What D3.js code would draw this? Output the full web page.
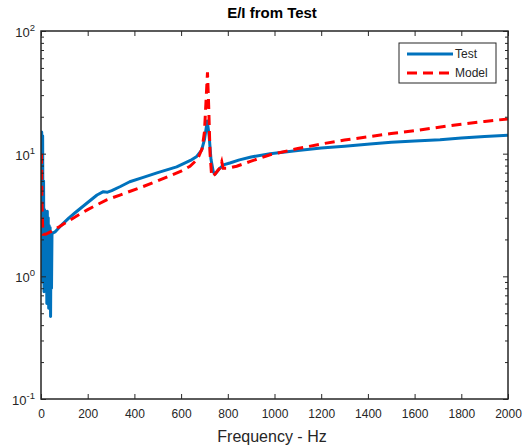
<!DOCTYPE html>
<html>
<head>
<meta charset="utf-8">
<script src="https://cdn.jsdelivr.net/npm/d3@7"></script>
<style>
  body { margin: 0; background: #fff; }
  svg text { font-family: "Liberation Sans", Arial, sans-serif; fill: #262626; }
  .axis path, .axis line { stroke: #262626; }
</style>
</head>
<body>
<svg id="chart" width="525" height="447"></svg>
<script>
const width = 525, height = 447;

const testFreq = [1, 3, 5, 7, 9, 11, 13, 15, 17, 19, 21, 23, 25, 27, 29, 31, 33, 35, 37, 39, 41, 43, 45, 47, 50, 60,
  81, 120, 146, 200, 240, 267, 285, 303, 340, 380, 438, 500, 581, 640, 667, 688, 700, 712, 720, 728, 738, 745, 760, 781, 809,
  850, 900, 981, 1100, 1200, 1300, 1409, 1500, 1600, 1709, 1800, 1900, 2000];
const testVal = [1.1, 15, 0.9, 14, 1.3, 6, 0.75, 3.5, 0.8, 2.0, 1.0, 2.2, 0.6, 3.4, 0.65, 3.0, 0.55, 2.6, 0.6, 2.5, 0.47, 2.3, 0.8, 2.2, 2.25, 2.3,
  2.54, 3.0, 3.3, 4.0, 4.6, 4.9, 4.85, 5.0, 5.4, 5.9, 6.4, 7.0, 7.8, 8.8, 9.5, 10.7, 13, 18.5, 14, 9, 7.1, 6.8, 7.4, 8.1, 8.4,
  8.9, 9.4, 10, 10.6, 11.1, 11.5, 12.0, 12.4, 12.7, 13.0, 13.4, 13.8, 14.1];

const modelFreq = [2, 4, 7, 10, 20, 40, 80, 146, 200, 281, 338, 438, 500, 552, 600, 638, 670, 690, 700, 708, 713, 718, 724, 731,
  745, 765, 774, 780, 800, 838, 900, 981, 1100, 1200, 1300, 1409, 1500, 1600, 1739, 1800, 1900, 2000];
const modelVal = [10, 4, 2.6, 2.2, 2.2, 2.3, 2.55, 3.05, 3.5, 4.2, 4.6, 5.4, 6.0, 6.6, 7.2, 7.9, 9.0, 11, 15, 30, 46, 25, 10, 6.5,
  6.8, 7.6, 8.6, 7.6, 7.6, 7.9, 8.7, 9.8, 11, 12, 12.9, 13.8, 14.6, 15.4, 16.8, 17.4, 18.3, 19.2];

const xTicks = [0, 200, 400, 600, 800, 1000, 1200, 1400, 1600, 1800, 2000];
const yTicks = [0.1, 1, 10, 100];

const fig = {margin: {top: 31, right: 17, bottom: 48, left: 41}};
fig.width = width - fig.margin.left - fig.margin.right;
fig.height = height - fig.margin.top - fig.margin.bottom;

const svg = d3.select('#chart');

const x = d3.scaleLinear().domain([0, 2000]).range([fig.margin.left, fig.margin.left + fig.width]);
const y = d3.scaleLog().domain([0.1, 100]).range([fig.margin.top + fig.height, fig.margin.top]);

const minorTicks = y.ticks().filter(v => !yTicks.includes(v));

svg.append('clipPath').attr('id', 'plotClip')
  .append('rect')
  .attr('x', fig.margin.left).attr('y', fig.margin.top)
  .attr('width', fig.width).attr('height', fig.height);

const line = d3.line().x(d => x(d[0])).y(d => y(d[1]));

const plot = svg.append('g').attr('clip-path', 'url(#plotClip)');

plot.append('path')
  .datum(testFreq.map((f, i) => [f, testVal[i]]))
  .attr('d', line)
  .attr('fill', 'none')
  .attr('stroke', '#0072BD')
  .attr('stroke-width', 3)
  .attr('stroke-linejoin', 'round');

plot.append('path')
  .datum(modelFreq.map((f, i) => [f, modelVal[i]]))
  .attr('d', line)
  .attr('fill', 'none')
  .attr('stroke', '#FF0000')
  .attr('stroke-width', 3)
  .attr('stroke-dasharray', '10,6');

// axes, ticks inside on all four sides
const bottom = fig.margin.top + fig.height, right = fig.margin.left + fig.width;

svg.append('g').attr('class', 'axis')
  .attr('transform', 'translate(0,' + bottom + ')')
  .call(d3.axisBottom(x).tickValues(xTicks).tickSize(-5).tickPadding(10).tickFormat(d3.format('d')))
  .call(g => g.select('.domain').remove())
  .selectAll('text').attr('font-size', 12).attr('font-family', null);

svg.append('g').attr('class', 'axis')
  .attr('transform', 'translate(0,' + fig.margin.top + ')')
  .call(d3.axisTop(x).tickValues(xTicks).tickSize(-5).tickFormat(''))
  .call(g => g.select('.domain').remove());

[[d3.axisLeft, fig.margin.left], [d3.axisRight, right]].forEach(([ax, pos]) => {
  svg.append('g').attr('class', 'axis')
    .attr('transform', 'translate(' + pos + ',0)')
    .call(ax(y).tickValues(minorTicks).tickSize(-3).tickFormat(''))
    .call(g => g.select('.domain').remove());
  svg.append('g').attr('class', 'axis')
    .attr('transform', 'translate(' + pos + ',0)')
    .call(ax(y).tickValues(yTicks).tickSize(-5).tickFormat(''))
    .call(g => g.select('.domain').remove());
});

// frame
svg.append('rect')
  .attr('x', fig.margin.left).attr('y', fig.margin.top)
  .attr('width', fig.width).attr('height', fig.height)
  .attr('fill', 'none').attr('stroke', '#262626').attr('stroke-width', 1.5);

// y tick labels 10^n
yTicks.forEach(v => {
  const t = svg.append('text')
    .attr('x', fig.margin.left - 6)
    .attr('y', y(v) + 6)
    .attr('text-anchor', 'end')
    .attr('font-size', 13);
  t.append('tspan').text('10');
  t.append('tspan').attr('dy', -6).attr('font-size', 9.5).text(Math.round(Math.log10(v)));
});

// labels
svg.append('text')
  .attr('x', 272).attr('y', 442)
  .attr('text-anchor', 'middle')
  .attr('font-size', 16)
  .text('Frequency - Hz');

svg.append('text')
  .attr('x', 272).attr('y', 18)
  .attr('text-anchor', 'middle')
  .attr('font-size', 15)
  .attr('font-weight', 'bold')
  .style('fill', '#000')
  .text('E/I from Test');

// legend
const legend = svg.append('g').attr('transform', 'translate(399,43)');
legend.append('rect')
  .attr('width', 97).attr('height', 40)
  .attr('fill', '#fff').attr('stroke', '#262626').attr('stroke-width', 1);
const series = [
  {name: 'Test', color: '#0072BD', dash: null},
  {name: 'Model', color: '#FF0000', dash: '10,6'}
];
series.forEach((s, i) => {
  const yy = 11 + i * 19;
  legend.append('line')
    .attr('x1', 8).attr('x2', 54).attr('y1', yy).attr('y2', yy)
    .attr('stroke', s.color).attr('stroke-width', 3)
    .attr('stroke-dasharray', s.dash);
  legend.append('text')
    .attr('x', 56).attr('y', yy + 4)
    .attr('font-size', 12)
    .text(s.name);
});
</script>
</body>
</html>
